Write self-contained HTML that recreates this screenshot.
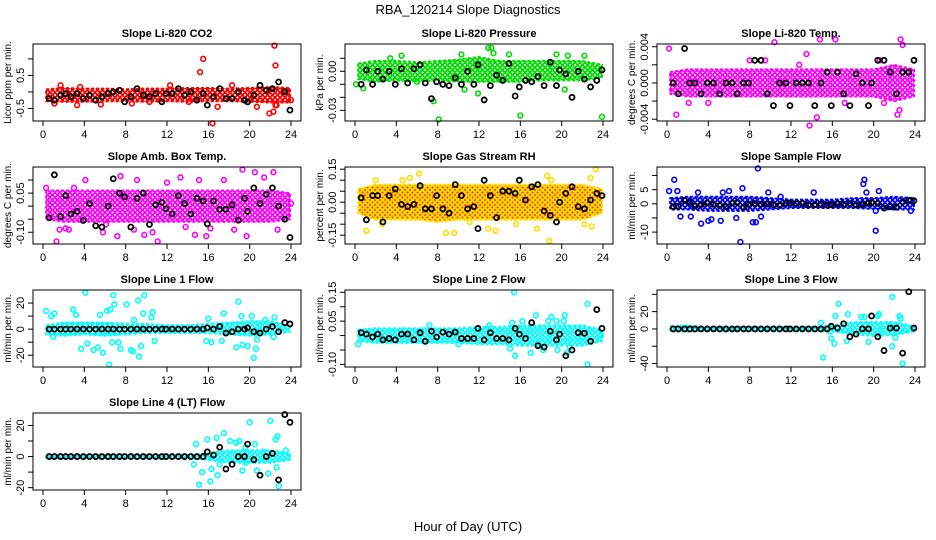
<!DOCTYPE html>
<html><head><meta charset="utf-8"><style>
html,body{margin:0;padding:0;background:#fff}
svg{display:block;font-family:"Liberation Sans",sans-serif}
</style></head><body>
<svg id="chart" width="936" height="540" viewBox="0 0 936 540">
<defs id="defs"></defs>
<text x="468" y="14" text-anchor="middle" font-size="13">RBA_120214  Slope Diagnostics</text>
<text x="468" y="531" text-anchor="middle" font-size="13">Hour of Day (UTC)</text>
</svg>
<script>
const blackHours=[0.6,1.1,1.7,2.2,2.7,3.3,3.9,4.5,5.1,5.7,6.3,6.8,7.4,7.9,8.5,9.1,9.7,10.3,10.9,11.5,11.9,12.5,13.1,13.7,14.3,14.9,15.5,15.9,16.5,17.1,17.7,18.3,18.9,19.5,19.8,20.4,21.0,21.6,22.2,22.8,23.4,23.9];
const bandHours=[0.3,2,4,6,8,10,12,14,16,18,20,22,23.9];
const xTicks=[0,4,8,12,16,20,24];

const co2Black=[-0.2,-0.25,-0.1,-0.05,-0.15,-0.05,-0.2,-0.1,-0.25,-0.15,-0.05,0,0.05,-0.3,-0.15,0.1,-0.1,-0.15,-0.05,-0.3,-0.05,-0.05,0.1,-0.1,0,-0.25,-0.05,-0.4,-0.15,0.1,-0.2,-0.2,0,-0.25,-0.3,-0.1,0.2,0.05,0.1,0.3,0,-0.55];
const co2Lo=[-0.28,-0.3,-0.3,-0.28,-0.28,-0.3,-0.28,-0.3,-0.28,-0.28,-0.3,-0.32,-0.32];
const co2Hi=[0.08,0.12,0.1,0.1,0.08,0.1,0.1,0.12,0.12,0.1,0.12,0.15,0.12];
const co2OutX=[1.7,1.1,3.3,3.6,5.6,8.6,15.2,15.5,16.4,16.9,20.7,21.9,22.3,22.4,22.5,22.5,22.6,24,12.3,18.3,14.1,10.3];
const co2OutY=[0.2,-0.35,-0.4,0.15,-0.38,-0.35,0.6,1.0,-0.95,-0.45,-0.45,-0.65,-0.6,1.4,0.8,-0.4,-0.4,-0.25,0.2,0.2,-0.3,-0.3];

const presBlack=[-0.01,0.001,-0.01,0,-0.006,0,-0.01,0.002,-0.009,0.002,0.005,-0.009,-0.021,-0.008,-0.01,-0.011,-0.005,-0.01,0.0,-0.01,0.005,-0.022,-0.011,-0.003,-0.007,0.006,-0.019,-0.012,-0.007,-0.008,-0.004,-0.011,0.007,-0.011,0.001,-0.002,-0.02,0,-0.006,-0.012,-0.007,0.001];
const presLo=[-0.006,-0.008,-0.007,-0.008,-0.007,-0.008,-0.008,-0.008,-0.008,-0.007,-0.007,-0.007,-0.005];
const presHi=[0.006,0.008,0.008,0.007,0.008,0.009,0.011,0.008,0.008,0.008,0.008,0.008,0.005];
const presOutX=[0.1,0.8,4.5,3.4,7.6,8.1,10.3,11.9,12.9,13.2,13.4,14.9,16,19.5,20.6,20.3,22.2,23.9,10.6,6.0];
const presOutY=[-0.01,-0.013,0.012,0.01,-0.023,-0.037,0.013,-0.017,0.018,0.018,0.014,0.013,-0.034,0.013,0.012,-0.014,0.012,-0.035,-0.014,-0.008];

const tempBlack=[0,-0.0012,0.0038,0,0,-0.0012,0,0,-0.0012,0,0,-0.0012,0,0,0.0025,0.0025,-0.0012,-0.0025,0,0,-0.0025,0,0,0,-0.0025,0,0.0012,-0.0025,0.0012,-0.0012,-0.0025,0.001,0,-0.0025,0,0.0025,0.0025,0.0012,-0.0012,0.0012,0.0012,0.0025];
const tempLo=[-0.0012,-0.0015,-0.0015,-0.0015,-0.0015,-0.0015,-0.0015,-0.0015,-0.0015,-0.0015,-0.0015,-0.002,-0.0015];
const tempHi=[0.0012,0.0015,0.0015,0.0015,0.0015,0.0015,0.0015,0.0015,0.0015,0.0015,0.0015,0.002,0.0015];
const tempOutX=[0.2,0.9,10.4,13.5,13.8,14.5,14.8,16.3,22.6,22.8,22.3,22.5,2.1,4.0,8.0,17.2,21.0,20.6,12.8,9.5];
const tempOutY=[0.0038,-0.0035,0.0045,0.0032,-0.0047,-0.0038,0.0048,0.0048,0.0048,0.0042,-0.0035,-0.003,-0.0022,-0.0022,0.0025,-0.0022,-0.0022,0.0025,0.002,0.0025];

const ambBlack=[-0.045,0.12,-0.04,0.04,-0.03,-0.02,-0.055,0.01,-0.075,-0.08,0,0.105,0.05,0.035,-0.08,0.03,0.05,-0.07,0.005,0.015,-0.01,-0.03,0.04,0.01,-0.03,0.03,0.02,-0.068,0.02,-0.012,-0.012,0.005,-0.054,0.03,-0.02,0.07,0.01,0.045,0.07,0,-0.05,-0.12];
const ambLo=[-0.05,-0.06,-0.06,-0.06,-0.06,-0.06,-0.06,-0.06,-0.06,-0.06,-0.06,-0.06,-0.05];
const ambHi=[0.06,0.06,0.06,0.06,0.06,0.06,0.06,0.06,0.06,0.06,0.06,0.06,0.05];
const ambOutX=[1.3,1.6,2.2,2.5,5.8,6.1,7.2,7.5,8.8,9.8,10.6,11.1,13.3,13.8,14.7,15.8,16.2,17.5,19.3,19.7,20.5,21.4,22.3,22.7,24,4.1,9.1,15.1,0.3,3.0,12.0,18.5];
const ambOutY=[-0.135,-0.09,-0.085,-0.09,-0.1,-0.07,-0.115,0.115,-0.09,-0.11,-0.1,-0.135,0.11,-0.08,-0.11,-0.115,-0.085,0.1,0.14,-0.115,0.13,0.11,0.13,-0.09,0.01,0.1,0.1,0.1,0.07,0.07,0.09,-0.09];

const rhBlack=[0.02,-0.08,0.03,0.03,-0.09,0.03,0.06,-0.01,-0.02,-0.01,0.075,-0.03,-0.03,0.03,-0.03,-0.05,0.08,0.03,-0.03,-0.02,-0.12,0.1,0.03,-0.07,0.05,0.05,0.04,0.1,0.01,0.07,0.08,-0.04,-0.06,-0.09,0.0,0.04,0.07,-0.02,-0.03,0.01,0.04,0.03];
const rhLo=[-0.05,-0.08,-0.08,-0.08,-0.09,-0.08,-0.08,-0.08,-0.08,-0.08,-0.08,-0.08,-0.05];
const rhHi=[0.06,0.08,0.08,0.08,0.08,0.08,0.08,0.08,0.08,0.08,0.08,0.08,0.06];
const rhOutX=[1.1,2.6,6.2,8.8,9.6,12.9,13.6,15.6,17.6,18.6,18.8,19,22.2,22.9,23.3,22.8,4.6,5.3,2.0,11.1];
const rhOutY=[-0.13,-0.1,0.13,-0.14,-0.14,-0.12,-0.13,-0.1,-0.12,0.12,-0.175,0.1,-0.1,-0.11,0.15,0.11,0.1,0.11,0.1,-0.09];

const sampBlack=[-1,-0.8,1.2,0.5,-0.8,-0.3,0.3,-0.2,-0.5,-1,0.2,0.5,-1.2,-0.2,0.1,-0.2,-0.1,-0.3,-0.5,0.2,0.3,0.1,0.1,-0.4,-0.3,-0.1,-0.5,-0.3,0,-0.2,0.1,-0.4,-0.2,0.2,0.5,0.2,-1.5,-1,-1.2,0.7,1.2,1.1];
const sampLo=[-2,-2,-2.5,-2.5,-2.5,-2,-1.5,-1.5,-1.5,-1.5,-1.8,-2,-2];
const sampHi=[2,2.5,2.5,2.5,2.5,2,1.5,1.5,1.5,2,2,2.5,2];
const sampOutX=[0.2,0.7,1.0,1.3,2.3,3.3,4.0,4.3,5.2,6.7,7.1,7.3,8.3,8.6,8.8,9.1,9.8,14.2,19.0,19.1,19.3,20.2,20.2,20.5,23.6,3.0,5.4,11.0,6.0];
const sampOutY=[4.5,8.5,4.5,-4.5,-4.5,-7,-6,-5.5,-6,-5,-13.5,5.5,-6.5,-6.5,12.5,-4.5,4,4,7,8.5,4,-9.5,-2.5,4.5,-2.5,4,4,2.5,4.5];

const l1Black=[0,0,0,0,0,0,0,0,0,0,0,0,0,0,0,0,0,0,0,0,0,0,0,0,0,0,0,1,0,2,-3,-2,0,0,1,-2,-3,0,2,-2,5,4];
const l1Lo=[-4,-5,-4,-5,-4,-3,-3,-3,-3,-4,-5,-4,-2];
const l1Hi=[3,5,5,5,4,4,3,3,4,5,6,6,3];
const l1OutX=[0.3,0.8,1.1,1.0,2.9,3.2,3.7,4.1,4.3,4.9,5.3,5.5,5.8,6.2,6.5,6.4,6.8,6.9,6.7,7.5,7.3,8.1,8.5,8.7,8.8,9.2,9.3,9.5,9.8,9.7,10.5,10.6,10.8,15.8,16.3,17.5,17.3,18.7,18.9,19.2,19.3,19.8,20.2,20.4,20.6,20.7,21.5,22.3,22.4,16.0];
const l1OutY=[14,10,12,-6,15,11,-15,28,-11,-16,-14,11,-18,14,15,-27,26,19,-10,-15,-10,19,-16,-17,7,22,-21,-13,26,12,9,13,-9,-9,-10,12,-9,-14,21,10,-12,-13,10,-22,-15,-8,7,-6,9,8];

const l2Black=[0.01,0.005,-0.005,0.005,-0.015,-0.01,-0.015,0.005,0.005,-0.015,0.01,-0.02,0.015,-0.005,0.012,0.005,0.012,-0.01,-0.01,-0.01,0.025,-0.015,0.01,-0.01,-0.01,-0.015,0.025,0.005,-0.01,0.045,-0.035,-0.04,0.015,-0.015,0.005,-0.07,-0.05,0.01,0.008,-0.02,0.09,0.025];
const l2Lo=[-0.02,-0.025,-0.025,-0.025,-0.025,-0.025,-0.03,-0.03,-0.035,-0.035,-0.035,-0.035,-0.02];
const l2Hi=[0.02,0.025,0.025,0.025,0.025,0.025,0.03,0.03,0.035,0.035,0.035,0.035,0.02];
const l2OutX=[0.3,7.2,15.4,15.5,15.0,15.2,17.5,18.2,17.0,18.7,19.0,19.5,19.6,20.3,20.2,20.5,22.5,22.5,23.8,16.2,20.8,13.0,10.0];
const l2OutY=[-0.03,0.035,0.15,-0.07,-0.045,0.045,0.07,-0.05,-0.06,0.05,0.065,0.05,-0.05,0.07,0.05,-0.06,0.11,-0.1,0.0,0.05,-0.04,0.035,-0.03];

const l3Black=[0,0,0,0,0,0,0,0,0,0,0,0,0,0,0,0,0,0,0,0,0,0,0,0,0,0,0,3,1,6,-9,-6,0,0,15,-9,-25,1,1,-28,43,1];
const l3Lo=[-3,-3,-2,-2,-2,-2,-2,-2,-3,-6,-8,-7,-3];
const l3Hi=[3,4,2,2,2,2,2,2,4,8,8,8,3];
const l3OutX=[15.1,15.8,16.3,16.2,16.6,15.9,17.5,17.4,18.8,19.5,19.1,20.5,20.4,21.8,21.8,22.5,22.8,22.6,22.1,19.7,14.9];
const l3OutY=[-33,-3,15,-17,29,-11,17,-14,14,-15,14,17,15,37,-20,15,-40,12,-10,5,7];

const l4Black=[0,0,0,0,0,0,0,0,0,0,0,0,0,0,0,0,0,0,0,0,0,0,0,0,0,0,0,3,1,6,-8,-5,0,0,8,-2,-12,0,2,-15,27,22];
const l4Lo=[-1,-1,-1,-1,-1,-1,-1,-1,-2,-4,-4,-4,-2];
const l4Hi=[1,1,1,1,1,1,1,1,2,4,4,4,2];
const l4OutX=[15.1,15.4,14.8,14.6,15.9,16.2,16.3,16.8,16.9,17.5,18.1,18.7,19.0,19.3,19.6,20.0,20.5,20.7,21.8,22.0,22.5,22.6,22.8,22.7,23.5,17.1,19.6,21.3];
const l4OutY=[-18,-10,8,-5,11,-16,-8,12,-12,15,10,9,10,-9,6,22,8,-9,-11,23,11,-7,-19,13,4,-5,-4,3];

const panels=[
 {name:'co2',title:'Slope Li-820 CO2',ylab:'Licor ppm per min.',col:0,row:0,ymin:-0.88,ymax:1.45,ticks:[-0.5,0,0.5,1.0],labels:['-0.5','','0.5',''],color:'#ff0000',fill:'#ff0000',black:co2Black,lo:co2Lo,hi:co2Hi,ox:co2OutX,oy:co2OutY},
 {name:'pressure',title:'Slope Li-820 Pressure',ylab:'kPa per min.',col:1,row:0,ymin:-0.0382,ymax:0.021,ticks:[-0.03,-0.02,-0.01,0,0.01],labels:['-0.03','','','0.00',''],color:'#00dd00',fill:'#00dd00',black:presBlack,lo:presLo,hi:presHi,ox:presOutX,oy:presOutY},
 {name:'li820-temp',title:'Slope Li-820 Temp.',ylab:'degrees C per min.',col:2,row:0,ymin:-0.0042,ymax:0.0043,ticks:[-0.004,-0.002,0,0.002,0.004],labels:['-0.004','','0.000','','0.004'],color:'#ff00ff',fill:'#ff00ff',black:tempBlack,lo:tempLo,hi:tempHi,ox:tempOutX,oy:tempOutY},
 {name:'amb-box-temp',title:'Slope Amb. Box Temp.',ylab:'degrees C per min.',col:0,row:1,ymin:-0.145,ymax:0.15,ticks:[-0.10,-0.05,0,0.05,0.10],labels:['-0.10','','','0.05',''],color:'#ff00ff',fill:'#ff00ff',black:ambBlack,lo:ambLo,hi:ambHi,ox:ambOutX,oy:ambOutY},
 {name:'gas-stream-rh',title:'Slope Gas Stream RH',ylab:'percent per min.',col:1,row:1,ymin:-0.19,ymax:0.16,ticks:[-0.15,-0.10,-0.05,0,0.05,0.10,0.15],labels:['-0.15','','','0.00','','','0.15'],color:'#ffdd00',fill:'#ff3300',black:rhBlack,lo:rhLo,hi:rhHi,ox:rhOutX,oy:rhOutY},
 {name:'sample-flow',title:'Slope Sample Flow',ylab:'ml/min per min.',col:2,row:1,ymin:-14.2,ymax:13,ticks:[-10,-5,0,5,10],labels:['-10','','0','5',''],color:'#0000ff',fill:'#0000ff',black:sampBlack,lo:sampLo,hi:sampHi,ox:sampOutX,oy:sampOutY},
 {name:'line1-flow',title:'Slope Line 1 Flow',ylab:'ml/min per min.',col:0,row:2,ymin:-29,ymax:30,ticks:[-20,-10,0,10,20],labels:['-20','','0','','20'],color:'#00ffff',fill:'#00ffff',black:l1Black,lo:l1Lo,hi:l1Hi,ox:l1OutX,oy:l1OutY},
 {name:'line2-flow',title:'Slope Line 2 Flow',ylab:'ml/min per min.',col:1,row:2,ymin:-0.109,ymax:0.158,ticks:[-0.10,-0.05,0,0.05,0.10,0.15],labels:['-0.10','','','0.05','','0.15'],color:'#00ffff',fill:'#00ffff',black:l2Black,lo:l2Lo,hi:l2Hi,ox:l2OutX,oy:l2OutY},
 {name:'line3-flow',title:'Slope Line 3 Flow',ylab:'ml/min per min.',col:2,row:2,ymin:-44,ymax:45,ticks:[-40,-20,0,20,40],labels:['-40','','0','20',''],color:'#00ffff',fill:'#00ffff',black:l3Black,lo:l3Lo,hi:l3Hi,ox:l3OutX,oy:l3OutY},
 {name:'line4-flow',title:'Slope Line 4 (LT) Flow',ylab:'ml/min per min.',col:0,row:3,ymin:-21.5,ymax:28,ticks:[-20,-10,0,10,20],labels:['-20','','0','','20'],color:'#00ffff',fill:'#00ffff',black:l4Black,lo:l4Lo,hi:l4Hi,ox:l4OutX,oy:l4OutY}
];

const NS='http://www.w3.org/2000/svg';
const svg=document.getElementById('chart');
const defs=document.getElementById('defs');
function mk(tag,attrs,parent){const e=document.createElementNS(NS,tag);for(const k in attrs)e.setAttribute(k,attrs[k]);parent.appendChild(e);return e;}

panels.forEach(p=>{
  const x0=33+312*p.col, x1=x0+268, y0=44+123*p.row, y1=y0+77;
  const sx=h=>x0+10+h*(248/24);
  const sy=v=>y1-(v-p.ymin)/(p.ymax-p.ymin)*(y1-y0);
  // textured pattern mimicking overlapping open circles
  const pat=mk('pattern',{id:'pat-'+p.name,width:5,height:5,patternUnits:'userSpaceOnUse'},defs);
  if(p.fill!==p.color) mk('rect',{x:0,y:0,width:5,height:5,fill:p.fill},pat);
  mk('circle',{cx:2.5,cy:2.5,r:1.9,fill:'none',stroke:p.color,'stroke-width':1.5},pat);
  mk('circle',{cx:0,cy:0,r:1.9,fill:'none',stroke:p.color,'stroke-width':1.5},pat);
  mk('circle',{cx:5,cy:5,r:1.9,fill:'none',stroke:p.color,'stroke-width':1.5},pat);
  mk('circle',{cx:0,cy:5,r:1.9,fill:'none',stroke:p.color,'stroke-width':1.5},pat);
  mk('circle',{cx:5,cy:0,r:1.9,fill:'none',stroke:p.color,'stroke-width':1.5},pat);
  const g=mk('g',{},svg);
  
  
  const t=mk('text',{x:(x0+x1)/2,y:y0-7,'text-anchor':'middle','font-size':'11','font-weight':'bold'},g);
  t.textContent=p.title;
  
  
  let d='';
  bandHours.forEach((h,i)=>{d+=(i?'L':'M')+sx(h).toFixed(1)+' '+sy(p.hi[i]).toFixed(1);});
  for(let i=bandHours.length-1;i>=0;i--)d+='L'+sx(bandHours[i]).toFixed(1)+' '+sy(p.lo[i]).toFixed(1);
  d+='Z';
  const band=mk('path',{d:d,fill:'url(#pat-'+p.name+')',stroke:p.color,'stroke-width':'2','stroke-dasharray':'3 2','stroke-linejoin':'round'},g);
  
  
  p.ox.forEach((h,i)=>{
    const c=mk('circle',{cx:sx(h),cy:sy(p.oy[i]),r:2.4,fill:'none',stroke:p.color,'stroke-width':'1.6'},g);
    
    
  });
  p.black.forEach((v,i)=>{
    const c=mk('circle',{cx:sx(blackHours[i]),cy:sy(v),r:2.5,fill:'none',stroke:'#000','stroke-width':'1.8'},g);
    
    
  });
  const fr=mk('rect',{x:x0,y:y0,width:x1-x0,height:y1-y0,fill:'none',stroke:'#000','stroke-width':'1'},g);
  
  
  xTicks.forEach(h=>{
    mk('line',{x1:sx(h),x2:sx(h),y1:y1,y2:y1+5,stroke:'#000'},g);
    const tl=mk('text',{x:sx(h),y:y1+17,'text-anchor':'middle','font-size':'11'},g);
    tl.textContent=h;
    
    
  });
  mk('line',{x1:sx(0),x2:sx(24),y1:y1,y2:y1,stroke:'#000'},g);
  p.ticks.forEach((v,i)=>{
    mk('line',{x1:x0,x2:x0-5,y1:sy(v),y2:sy(v),stroke:'#000'},g);
    if(p.labels[i]){
      const yy=sy(v);
      const tl=mk('text',{x:x0-9,y:yy,'text-anchor':'middle','font-size':'11',transform:'rotate(-90 '+(x0-9)+' '+yy+')'},g);
      tl.textContent=p.labels[i];
      
      
    }
  });
  mk('line',{x1:x0,x2:x0,y1:sy(p.ticks[0]),y2:sy(p.ticks[p.ticks.length-1]),stroke:'#000'},g);
  const ym=(y0+y1)/2;
  const yl=mk('text',{x:x0-22,y:ym,'text-anchor':'middle','font-size':'10',transform:'rotate(-90 '+(x0-22)+' '+ym+')'},g);
  yl.textContent=p.ylab;
  
  
});
</script>
</body></html>
